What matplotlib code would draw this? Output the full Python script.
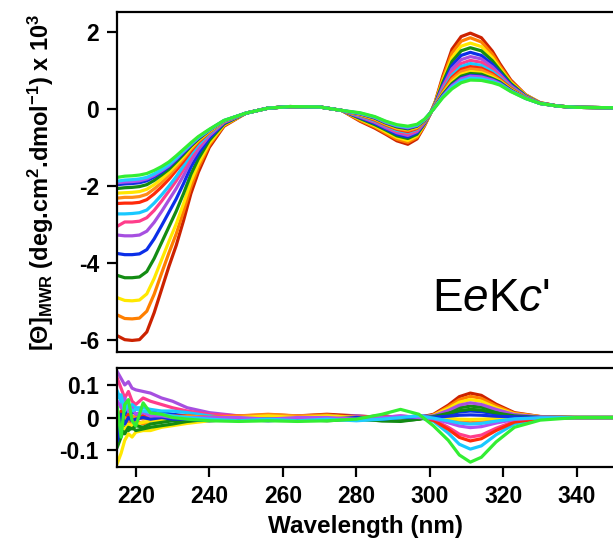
import matplotlib

matplotlib.use("Agg")
import matplotlib.pyplot as plt

plt.rcParams["font.family"] = ["Liberation Sans", "DejaVu Sans"]
plt.rcParams["mathtext.fontset"] = "custom"
plt.rcParams["mathtext.rm"] = "Liberation Sans"
plt.rcParams["mathtext.bf"] = "Liberation Sans:bold"
plt.rcParams["mathtext.it"] = "Liberation Sans:italic"
plt.rcParams["axes.unicode_minus"] = False

# one colour per spectrum (titration order)
COLORS = [
    "#cc2200", "#ff7f00", "#ffe800", "#138c13", "#0a2ee8", "#a64fe0",
    "#ff3d8b", "#19c8ff", "#ff2a0a", "#ff8c1a", "#ffe600", "#138a13",
    "#1030e0", "#b050f0", "#20ccff", "#33ee33",
]

# --- top panel: molar ellipticity x 10^3 ---
FAR_WL = [215, 217, 219, 221, 223, 225, 227, 229, 231, 233, 235, 237, 240, 244]
FAR_UV = [
    [-5.90, -6.00, -6.02, -6.00, -5.80, -5.30, -4.70, -4.10, -3.55, -2.90, -2.20, -1.65, -1.00, -0.45],
    [-5.36, -5.45, -5.46, -5.44, -5.26, -4.82, -4.28, -3.75, -3.25, -2.66, -2.03, -1.53, -0.94, -0.43],
    [-4.91, -4.98, -4.99, -4.97, -4.81, -4.41, -3.93, -3.45, -2.99, -2.46, -1.88, -1.43, -0.89, -0.41],
    [-4.33, -4.39, -4.39, -4.37, -4.23, -3.89, -3.48, -3.07, -2.66, -2.20, -1.70, -1.30, -0.82, -0.39],
    [-3.76, -3.79, -3.79, -3.77, -3.66, -3.38, -3.04, -2.69, -2.34, -1.94, -1.51, -1.17, -0.76, -0.37],
    [-3.28, -3.30, -3.30, -3.28, -3.18, -2.95, -2.67, -2.37, -2.07, -1.73, -1.36, -1.06, -0.70, -0.35],
    [-3.05, -2.94, -2.94, -2.92, -2.83, -2.64, -2.40, -2.14, -1.87, -1.57, -1.25, -0.98, -0.66, -0.34],
    [-2.73, -2.73, -2.72, -2.70, -2.63, -2.45, -2.24, -2.01, -1.76, -1.48, -1.18, -0.93, -0.64, -0.33],
    [-2.46, -2.45, -2.45, -2.43, -2.36, -2.21, -2.03, -1.83, -1.60, -1.36, -1.10, -0.87, -0.61, -0.32],
    [-2.32, -2.30, -2.30, -2.28, -2.22, -2.08, -1.92, -1.73, -1.52, -1.29, -1.05, -0.84, -0.59, -0.32],
    [-2.19, -2.18, -2.17, -2.15, -2.09, -1.97, -1.82, -1.65, -1.45, -1.24, -1.01, -0.81, -0.58, -0.32],
    [-2.07, -2.05, -2.04, -2.02, -1.97, -1.86, -1.72, -1.57, -1.38, -1.18, -0.97, -0.79, -0.56, -0.31],
    [-1.97, -1.95, -1.94, -1.92, -1.87, -1.77, -1.65, -1.51, -1.33, -1.14, -0.94, -0.76, -0.55, -0.31],
    [-1.92, -1.90, -1.89, -1.87, -1.82, -1.73, -1.61, -1.48, -1.30, -1.11, -0.93, -0.75, -0.55, -0.31],
    [-1.88, -1.85, -1.84, -1.82, -1.78, -1.69, -1.58, -1.45, -1.28, -1.09, -0.91, -0.74, -0.54, -0.30],
    [-1.78, -1.75, -1.74, -1.72, -1.68, -1.60, -1.50, -1.38, -1.22, -1.05, -0.88, -0.72, -0.53, -0.30],
]
MID_WL = [250, 256, 262, 270, 276]
MID_UV = [-0.11, 0.02, 0.06, 0.05, -0.04]
NEAR_WL = [281, 285, 288, 291, 294, 296.5, 298.5, 300, 301.5, 303.5, 306, 308.5,
           311, 314, 317, 319, 322, 326, 330]
NEAR_UV = [
    [-0.32, -0.50, -0.66, -0.83, -0.92, -0.78, -0.45, -0.15, 0.20, 0.85, 1.55, 1.88, 1.97, 1.85, 1.50, 1.18, 0.75, 0.37, 0.16],
    [-0.30, -0.47, -0.63, -0.79, -0.87, -0.74, -0.43, -0.15, 0.19, 0.79, 1.45, 1.76, 1.85, 1.74, 1.42, 1.12, 0.72, 0.36, 0.16],
    [-0.27, -0.44, -0.59, -0.74, -0.82, -0.70, -0.41, -0.14, 0.17, 0.73, 1.33, 1.63, 1.71, 1.62, 1.33, 1.06, 0.69, 0.35, 0.16],
    [-0.25, -0.41, -0.55, -0.70, -0.77, -0.66, -0.39, -0.14, 0.15, 0.68, 1.23, 1.51, 1.59, 1.51, 1.25, 1.01, 0.66, 0.34, 0.15],
    [-0.23, -0.38, -0.52, -0.66, -0.73, -0.62, -0.38, -0.14, 0.14, 0.62, 1.13, 1.39, 1.47, 1.39, 1.16, 0.95, 0.63, 0.33, 0.15],
    [-0.21, -0.35, -0.49, -0.62, -0.69, -0.59, -0.36, -0.14, 0.13, 0.57, 1.04, 1.28, 1.36, 1.30, 1.09, 0.90, 0.60, 0.32, 0.15],
    [-0.19, -0.33, -0.46, -0.59, -0.65, -0.56, -0.35, -0.13, 0.11, 0.53, 0.95, 1.18, 1.26, 1.21, 1.02, 0.86, 0.58, 0.31, 0.15],
    [-0.18, -0.31, -0.44, -0.56, -0.61, -0.53, -0.33, -0.13, 0.10, 0.49, 0.88, 1.10, 1.18, 1.13, 0.97, 0.82, 0.56, 0.31, 0.15],
    [-0.16, -0.29, -0.42, -0.53, -0.59, -0.51, -0.32, -0.13, 0.09, 0.45, 0.82, 1.03, 1.10, 1.06, 0.92, 0.78, 0.54, 0.30, 0.15],
    [-0.15, -0.27, -0.40, -0.51, -0.56, -0.49, -0.31, -0.13, 0.09, 0.42, 0.77, 0.97, 1.04, 1.01, 0.88, 0.75, 0.52, 0.29, 0.14],
    [-0.14, -0.25, -0.38, -0.49, -0.53, -0.47, -0.30, -0.13, 0.08, 0.39, 0.71, 0.90, 0.97, 0.94, 0.83, 0.72, 0.50, 0.29, 0.14],
    [-0.13, -0.24, -0.37, -0.47, -0.52, -0.45, -0.30, -0.12, 0.07, 0.37, 0.66, 0.85, 0.92, 0.90, 0.79, 0.70, 0.49, 0.28, 0.14],
    [-0.12, -0.23, -0.35, -0.45, -0.50, -0.44, -0.29, -0.12, 0.07, 0.35, 0.62, 0.80, 0.87, 0.85, 0.76, 0.68, 0.48, 0.28, 0.14],
    [-0.12, -0.22, -0.35, -0.44, -0.49, -0.43, -0.28, -0.12, 0.06, 0.33, 0.60, 0.78, 0.85, 0.83, 0.75, 0.66, 0.47, 0.28, 0.14],
    [-0.11, -0.21, -0.33, -0.43, -0.47, -0.42, -0.28, -0.12, 0.06, 0.31, 0.56, 0.73, 0.80, 0.78, 0.71, 0.64, 0.46, 0.27, 0.14],
    [-0.10, -0.20, -0.32, -0.41, -0.45, -0.40, -0.27, -0.12, 0.05, 0.29, 0.52, 0.68, 0.75, 0.74, 0.68, 0.62, 0.45, 0.27, 0.14],
]
TAIL_WL = [335, 340, 350, 360]
TAIL_UV = [0.07, 0.04, 0.03, 0.03]

# --- bottom panel: fit residuals ---
RES_WL = [215, 216, 217, 218, 219, 220, 222, 224, 227, 230, 234, 240, 248, 256, 264,
          272, 280, 287, 292, 297, 301, 305, 308, 311, 314, 318, 323, 330, 340, 360]
RESIDUALS = [
    [0.02, -0.03, 0.01, -0.02, 0.0, -0.01, 0.005, -0.005, 0.0, 0.005, 0.0, 0.005, 0.0, 0.008, 0.005,
     0.01, 0.005, 0.0, -0.005, 0.0, 0.01, 0.038, 0.064, 0.075, 0.068, 0.041, 0.015, 0.003, 0.0, 0.0],
    [-0.05, -0.02, -0.04, -0.01, -0.03, -0.01, -0.02, -0.01, -0.005, 0.0, 0.005, 0.0, 0.005, 0.01, 0.005,
     0.008, 0.0, 0.005, 0.0, -0.005, 0.008, 0.033, 0.055, 0.065, 0.059, 0.036, 0.013, 0.003, 0.0, 0.0],
    [-0.14, -0.11, -0.07, -0.05, -0.06, -0.045, -0.04, -0.04, -0.03, -0.025, -0.018, -0.01, -0.005, 0.0, 0.0,
     0.005, 0.0, 0.0, -0.005, 0.0, 0.007, 0.028, 0.047, 0.055, 0.05, 0.03, 0.011, 0.002, 0.0, 0.0],
    [-0.09, -0.06, -0.03, -0.04, -0.03, -0.04, -0.035, -0.03, -0.025, -0.02, -0.012, -0.005, 0.0, 0.0, -0.005,
     0.0, -0.005, -0.01, -0.01, -0.005, 0.004, 0.018, 0.03, 0.035, 0.032, 0.02, 0.007, 0.0, 0.0, 0.0],
    [-0.07, -0.03, 0.03, -0.01, 0.02, 0.01, 0.015, 0.02, 0.015, 0.01, 0.005, 0.0, 0.005, 0.005, 0.0,
     0.005, 0.0, 0.005, 0.0, 0.005, 0.003, 0.01, 0.017, 0.02, 0.018, 0.011, 0.004, 0.001, 0.0, 0.0],
    [0.14, 0.12, 0.10, 0.11, 0.09, 0.085, 0.08, 0.075, 0.06, 0.05, 0.03, 0.015, 0.005, 0.0, 0.005,
     0.0, 0.005, 0.0, 0.0, 0.0, 0.005, 0.022, 0.038, 0.045, 0.04, 0.025, 0.009, 0.002, 0.0, 0.0],
    [0.12, 0.09, 0.06, 0.08, 0.05, 0.04, 0.06, 0.05, 0.04, 0.03, 0.02, 0.01, 0.005, 0.005, 0.0,
     0.005, 0.0, 0.0, 0.005, 0.0, -0.007, -0.03, -0.051, -0.06, -0.054, -0.033, -0.012, -0.002, 0.0, 0.0],
    [0.08, 0.05, -0.02, 0.01, 0.04, 0.03, 0.03, 0.025, 0.02, 0.02, 0.015, 0.005, -0.005, -0.005, -0.01,
     -0.005, -0.005, -0.005, 0.0, 0.0, -0.012, -0.048, -0.082, -0.097, -0.087, -0.053, -0.02, -0.004, 0.0, 0.0],
    [-0.03, 0.02, -0.01, 0.01, -0.005, 0.0, 0.005, -0.005, 0.0, 0.005, 0.005, 0.0, 0.005, 0.0, 0.005,
     0.0, 0.0, 0.005, 0.0, 0.0, -0.009, -0.036, -0.061, -0.072, -0.065, -0.04, -0.014, -0.003, 0.0, 0.0],
    [0.01, -0.02, 0.0, -0.01, 0.005, 0.0, -0.005, 0.0, 0.005, 0.0, 0.005, 0.0, 0.005, 0.008, 0.005,
     0.005, 0.0, 0.0, 0.0, 0.0, -0.002, -0.008, -0.014, -0.016, -0.014, -0.009, -0.003, 0.0, 0.0, 0.0],
    [-0.04, -0.03, -0.035, -0.02, -0.025, -0.02, -0.015, -0.01, -0.01, -0.005, 0.0, 0.0, 0.0, 0.005, 0.0,
     0.005, 0.0, 0.0, 0.0, 0.0, -0.001, -0.003, -0.005, -0.006, -0.005, -0.003, -0.001, 0.0, 0.0, 0.0],
    [-0.05, -0.04, -0.05, -0.03, -0.035, -0.025, -0.03, -0.02, -0.015, -0.01, -0.01, -0.005, -0.005, -0.005, -0.005,
     -0.01, -0.005, -0.01, -0.012, -0.005, 0.003, 0.013, 0.021, 0.025, 0.023, 0.014, 0.005, 0.0, 0.0, 0.0],
    [-0.06, 0.01, -0.02, 0.0, -0.01, -0.005, 0.0, -0.005, 0.0, -0.005, -0.005, -0.01, -0.005, -0.01, -0.005,
     -0.005, 0.0, -0.005, 0.0, 0.0, 0.001, 0.004, 0.007, 0.008, 0.007, 0.004, 0.002, 0.0, 0.0, 0.0],
    [0.05, 0.03, 0.06, 0.02, 0.03, 0.01, 0.015, 0.005, 0.005, 0.0, 0.0, 0.0, 0.0, -0.005, 0.0,
     0.0, -0.005, 0.0, 0.005, 0.0, -0.004, -0.016, -0.026, -0.031, -0.028, -0.017, -0.006, -0.001, 0.0, 0.0],
    [0.06, 0.07, 0.02, 0.04, 0.02, 0.025, 0.02, 0.015, 0.01, 0.005, 0.0, -0.005, -0.01, -0.005, -0.01,
     -0.005, -0.01, -0.005, 0.0, 0.005, -0.002, -0.01, -0.017, -0.02, -0.018, -0.011, -0.004, -0.001, 0.0, 0.0],
    [0.03, -0.06, 0.04, 0.055, -0.01, -0.026, 0.045, 0.014, 0.01, 0.0, -0.005, -0.01, -0.012, -0.01, -0.012,
     -0.01, -0.005, 0.01, 0.025, 0.01, -0.026, -0.07, -0.115, -0.137, -0.122, -0.075, -0.03, -0.008, 0.0, 0.0],
]

X_TICKS = [220, 240, 260, 280, 300, 320, 340]
TOP_Y_TICKS = [-6, -4, -2, 0, 2]
RES_Y_TICKS = [-0.1, 0, 0.1]
RES_Y_LABELS = ["-0.1", "0", "0.1"]


def style_axis(ax):
    for side in ("left", "top", "bottom"):
        ax.spines[side].set_linewidth(1.6)
    ax.spines["right"].set_visible(False)
    ax.tick_params(direction="out", length=7, width=1.6, labelsize=16.5, pad=6)
    for lbl in ax.get_xticklabels() + ax.get_yticklabels():
        lbl.set_fontweight("bold")


fig = plt.figure(figsize=(6.13, 5.44), dpi=100)
ax_top = fig.add_axes([0.1909, 0.353, 0.8091, 0.625])
ax_res = fig.add_axes([0.1909, 0.1415, 0.8091, 0.182])

wl = FAR_WL + MID_WL + NEAR_WL + TAIL_WL
for color, far, near in zip(COLORS, FAR_UV, NEAR_UV):
    ax_top.plot(wl, far + MID_UV + near + TAIL_UV, color=color, lw=2.3)

for color, res in zip(COLORS, RESIDUALS):
    ax_res.plot(RES_WL, res, color=color, lw=2.3)

xlim = (214.9, 349.8)
ax_top.set_xlim(*xlim)
ax_top.set_ylim(-6.32, 2.52)
ax_top.set_yticks(TOP_Y_TICKS)
ax_top.set_xticks([])
ax_top.set_ylabel(
    r"[Θ]$_{\mathbf{MWR}}$ (deg.cm$^{\mathbf{2}}$.dmol$^{\mathbf{-1}}$) x 10$^{\mathbf{3}}$",
    fontsize=17, fontweight="bold", labelpad=16,
)
ax_top.text(0.635, 0.12, r"E$\mathit{e}$K$\mathit{c}$'", transform=ax_top.transAxes,
            fontsize=33, ha="left", va="baseline")
style_axis(ax_top)

ax_res.set_xlim(*xlim)
ax_res.set_ylim(-0.152, 0.152)
ax_res.set_xticks(X_TICKS)
ax_res.set_yticks(RES_Y_TICKS)
ax_res.set_yticklabels(RES_Y_LABELS)
ax_res.set_xlabel("Wavelength (nm)", fontsize=17.5, fontweight="bold", labelpad=5)
style_axis(ax_res)

fig.savefig("out.png", dpi=100)
